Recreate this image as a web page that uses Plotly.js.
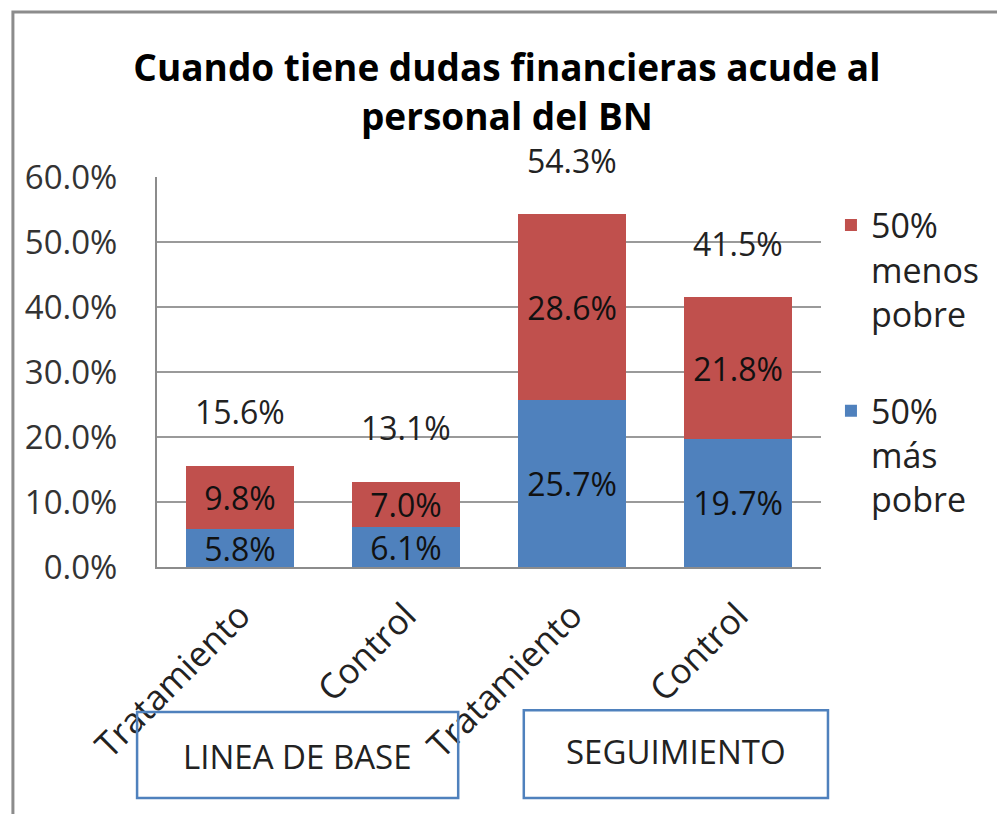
<!DOCTYPE html>
<html>
<head>
<meta charset="utf-8">
<script src="https://cdn.plot.ly/plotly-3.0.1.min.js"></script>
<style>
  html, body { margin: 0; padding: 0; background: #ffffff; }
  #chart { width: 997px; height: 814px; }
</style>
</head>
<body>
<div id="chart"></div>
<script>
// ---- data ----
const categories = ["Tratamiento", "Control", "Tratamiento", "Control"];
const masPobre = [0.058, 0.061, 0.257, 0.197];     // 50% más pobre (blue, bottom)
const menosPobre = [0.098, 0.070, 0.286, 0.218];   // 50% menos pobre (red, top)
const periods = ["LINEA DE BASE", "SEGUIMIENTO"];
const seriesNames = ["50%<br>más<br>pobre", "50%<br>menos<br>pobre"];
const yTicks = [0, 0.1, 0.2, 0.3, 0.4, 0.5, 0.6];

const xIdx = categories.map((_, i) => i);
const totals = masPobre.map((v, i) => v + menosPobre[i]);
const pct = v => (v * 100).toFixed(1) + "%";

const FONT = "Open Sans, DejaVu Sans, sans-serif";

const traces = [
  {
    type: "bar", x: xIdx, y: masPobre, name: seriesNames[0], legendgroup: "b", legendrank: 2,
    marker: { color: "#4f81bd" },
    text: masPobre.map(pct), textposition: "inside", insidetextanchor: "middle",
    textangle: 0, constraintext: "none",
    textfont: { family: FONT, size: 32, color: "#111111" },
    hoverinfo: "skip"
  },
  {
    type: "bar", x: xIdx, y: menosPobre, name: seriesNames[1], legendgroup: "a", legendrank: 1,
    marker: { color: "#c0504d" },
    text: menosPobre.map(pct), textposition: "inside", insidetextanchor: "middle",
    textangle: 0, constraintext: "none",
    textfont: { family: FONT, size: 32, color: "#111111" },
    hoverinfo: "skip"
  }
];

const annotations = totals.map((t, i) => ({
  x: i, y: t, xref: "x", yref: "y", text: pct(t), showarrow: false,
  xanchor: "center", yanchor: "middle",
  yshift: 54, font: { family: FONT, size: 32, color: "#222222" }
}));

// period boxes (paper coords)
const boxes = [
  { x0: -0.030, x1: 0.4536, y0: -0.592, y1: -0.372, cx: 0.212, cy: -0.487 },
  { x0: 0.5524, x1: 1.0105, y0: -0.592, y1: -0.367, cx: 0.781, cy: -0.474 }
];
const shapes = boxes.map(b => ({
  type: "rect", xref: "paper", yref: "paper",
  x0: b.x0, x1: b.x1, y0: b.y0, y1: b.y1,
  line: { color: "#4f81bd", width: 2.5 }, fillcolor: "rgba(0,0,0,0)"
}));
boxes.forEach((b, i) => annotations.push({
  x: b.cx, y: b.cy, xref: "paper", yref: "paper", text: periods[i], showarrow: false,
  xanchor: "center", yanchor: "middle",
  font: { family: FONT, size: 33, color: "#222222" }
}));
// outer frame
shapes.push({
  type: "rect", xref: "paper", yref: "paper",
  x0: -0.217, x1: 1.30, y0: -0.70, y1: 1.423,
  line: { color: "#8c8c8c", width: 3 }, fillcolor: "rgba(0,0,0,0)"
});

const layout = {
  width: 997, height: 814,
  margin: { l: 157, r: 170, t: 177, b: 247 },
  paper_bgcolor: "#ffffff", plot_bgcolor: "#ffffff",
  barmode: "stack", bargap: 0.353,
  title: {
    text: "<b>Cuando tiene dudas financieras acude al<br>personal del BN</b>",
    font: { family: FONT, size: 37, color: "#000000" },
    xref: "paper", x: 0.527, xanchor: "center",
    yref: "container", y: 0.90, yanchor: "top"
  },
  xaxis: {
    range: [-0.5, 3.5], tickmode: "array", tickvals: xIdx, ticktext: categories,
    tickangle: -45, ticks: "", showgrid: false, zeroline: false,
    showline: true, linecolor: "#8c8c8c", linewidth: 2,
    ticklabelstandoff: 12,
    tickfont: { family: FONT, size: 35, color: "#222222" }
  },
  yaxis: {
    range: [0, 0.6], tickmode: "array", tickvals: yTicks, tickformat: ".1%",
    ticks: "", showgrid: true, gridcolor: "#9a9a9a", gridwidth: 2,
    zeroline: false, showline: true, linecolor: "#8c8c8c", linewidth: 2,
    ticklabelstandoff: 31,
    tickfont: { family: FONT, size: 33, color: "#333333" }
  },
  legend: {
    x: 1.015, xanchor: "left", y: 0.95, yanchor: "top",
    traceorder: "grouped", tracegroupgap: 50, valign: "top",
    font: { family: FONT, size: 34, color: "#222222" },
    bgcolor: "rgba(0,0,0,0)"
  },
  annotations: annotations,
  shapes: shapes,
  showlegend: true
};

Plotly.newPlot("chart", traces, layout, { displayModeBar: false, staticPlot: true });
</script>
</body>
</html>
